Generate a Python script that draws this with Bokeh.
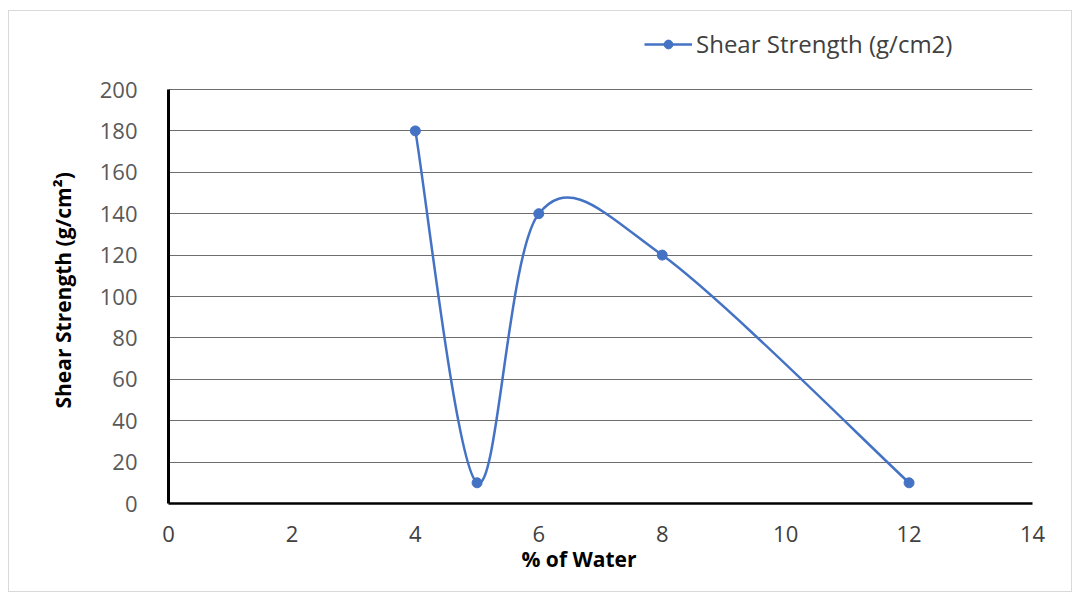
from bokeh.plotting import figure
from bokeh.models import Legend, LegendItem, Range1d, FixedTicker, Title
from bokeh.embed import file_html
from bokeh.resources import INLINE

# ---- data ----
water = [4, 5, 6, 8, 12]
strength = [180, 10, 140, 120, 10]
series_name = "Shear Strength (g/cm2)"
x_title = "% of Water"
y_title = "Shear Strength (g/cm²)"
x_ticks = [0, 2, 4, 6, 8, 10, 12, 14]
y_ticks = [0, 20, 40, 60, 80, 100, 120, 140, 160, 180, 200]

BLUE = "#4472C4"
FONT = "Open Sans"

# frame extends upward to hold the legend; axis/grid drawn only 0..200
FRAME_H = 482
Y_TOP = y_ticks[-1] * FRAME_H / 414

p = figure(width=1062, height=580, frame_width=864, frame_height=FRAME_H,
           min_border_left=159, min_border_right=39, min_border_top=10, min_border_bottom=88,
           x_range=Range1d(0, 14), y_range=Range1d(0, Y_TOP),
           output_backend="svg", toolbar_location=None,
           margin=(10, 0, 0, 8), styles={"border": "1px solid #d9d9d9", "box-sizing": "border-box"})
p.outline_line_color = None
p.background_fill_color = "white"
p.border_fill_color = "white"

# smooth (Excel-like) curve: cubic bezier segments with Catmull-Rom control points
n = len(water)
x0, y0, x1, y1, cx0, cy0, cx1, cy1 = [], [], [], [], [], [], [], []
for i in range(n - 1):
    pa = (water[max(i - 1, 0)], strength[max(i - 1, 0)])
    pb = (water[i], strength[i])
    pc = (water[i + 1], strength[i + 1])
    pd = (water[min(i + 2, n - 1)], strength[min(i + 2, n - 1)])
    x0.append(pb[0]); y0.append(pb[1])
    x1.append(pc[0]); y1.append(pc[1])
    cx0.append(pb[0] + (pc[0] - pa[0]) / 6); cy0.append(pb[1] + (pc[1] - pa[1]) / 6)
    cx1.append(pc[0] - (pd[0] - pb[0]) / 6); cy1.append(pc[1] - (pd[1] - pb[1]) / 6)

curve = p.bezier(x0=x0, y0=y0, x1=x1, y1=y1, cx0=cx0, cy0=cy0, cx1=cx1, cy1=cy1,
                 line_color=BLUE, line_width=2.5)
pts = p.scatter(water, strength, size=10, color=BLUE)
leg_line = p.line([water[0]], [strength[0]], line_color=BLUE, line_width=2.5, visible=False)

legend = Legend(items=[LegendItem(label=series_name, renderers=[leg_line, pts])],
                location=(476, 443), padding=0, margin=0, spacing=0,
                glyph_width=48, glyph_height=22, label_standoff=4,
                label_text_font=FONT, label_text_font_size="24px", label_text_color="#404040",
                border_line_color=None, background_fill_alpha=0)
p.add_layout(legend, "center")

# axes
p.xaxis.ticker = FixedTicker(ticks=x_ticks)
p.yaxis.ticker = FixedTicker(ticks=y_ticks)
p.yaxis.bounds = (y_ticks[0], y_ticks[-1])
for ax in (p.xaxis[0], p.yaxis[0]):
    ax.major_tick_line_color = None
    ax.minor_tick_line_color = None
    ax.axis_line_color = "black"
    ax.major_label_text_font = FONT
    ax.major_label_text_font_size = "22px"
p.yaxis.axis_line_width = 3
p.xaxis.axis_line_width = 2.5
p.yaxis.major_label_text_color = "#595959"
p.xaxis.major_label_text_color = "#404040"
p.yaxis.major_label_standoff = 25
p.xaxis.major_label_standoff = 16

# axis titles (as titles so they can be placed like the reference)
yt = Title(text=y_title, align="left", offset=95, standoff=40,
           text_font=FONT, text_font_style="bold", text_font_size="21px", text_color="black")
p.add_layout(yt, "left")
xt = Title(text=x_title, align="left", offset=353, standoff=0, vertical_align="top",
           text_font=FONT, text_font_style="bold", text_font_size="21px", text_color="black")
p.add_layout(xt, "below")

p.xgrid.grid_line_color = None
p.ygrid.grid_line_color = "#6e6e6e"
p.ygrid.grid_line_width = 1.2
p.ygrid.ticker = FixedTicker(ticks=y_ticks)

open("out.html", "w").write(file_html(p, INLINE))
